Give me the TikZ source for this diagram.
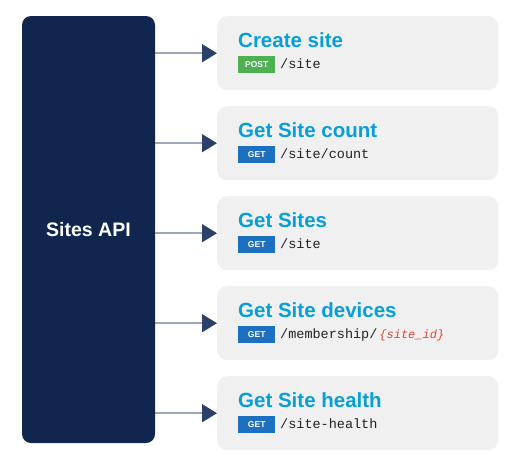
\documentclass[tikz,border=0pt]{standalone}
\usepackage{fontspec}
\setmainfont{Liberation Sans}
\setmonofont{Liberation Mono}
\usetikzlibrary{arrows.meta}
\definecolor{navy}{HTML}{10264F}
\definecolor{titleblue}{HTML}{079FD9}
\definecolor{boxgray}{HTML}{F0F0F0}
\definecolor{linegray}{HTML}{9CA7BB}
\definecolor{tipnavy}{HTML}{2C4169}
\definecolor{postgreen}{HTML}{4DB151}
\definecolor{getblue}{HTML}{1D6FC0}
\definecolor{paramred}{HTML}{E0433B}
\definecolor{codeblack}{HTML}{222222}
\tikzset{
  x=1pt,y=-1pt,
  apibox/.style={fill=navy,rounded corners=9pt,minimum width=133pt,minimum height=427pt,inner sep=0pt,text=white,font=\bfseries\fontsize{19.5}{22}\selectfont},
  opbox/.style={fill=boxgray,rounded corners=10pt,minimum width=281pt,minimum height=74pt,inner sep=0pt},
  optitle/.style={anchor=base west,inner sep=0pt,text=titleblue,font=\bfseries\fontsize{20.5}{23}\selectfont},
  badge/.style={anchor=west,inner sep=0pt,minimum width=37pt,minimum height=17pt,text=white,font=\bfseries\fontsize{8.5}{9}\selectfont},
  codetxt/.style={anchor=base west,inner sep=0pt,text=codeblack,font=\ttfamily\fontsize{13.5}{15}\selectfont},
  conn/.style={draw=linegray,line width=1.5pt,-{Triangle[length=15pt,width=18pt,color=tipnavy]}}
}
\begin{document}
\begin{tikzpicture}
\useasboundingbox (0,0) rectangle (518,466);
\node[apibox] (api) at (88.5,229.5) {Sites API};
\foreach \i/\t/\m/\c/\p in {1/Create site/POST/postgreen/{/site},
  2/Get Site count/GET/getblue/{/site/count},
  3/Get Sites/GET/getblue/{/site},
  4/Get Site devices/GET/getblue/{/membership/\kern2pt\textcolor{paramred}{\itshape\fontsize{12}{13}\selectfont\{site\_id\}}},
  5/Get Site health/GET/getblue/{/site-health}}{
  \pgfmathsetmacro{\yy}{16+90*(\i-1)}
  \node[opbox,anchor=north west] (b\i) at (217,\yy) {};
  \node[optitle] (t\i) at (238,\yy+31) {\t};
  \node[badge,fill=\c] (g\i) at (238,\yy+48.5) {\m};
  \node[codetxt] (c\i) at (280,\yy+52.5) {\p};
  \draw[conn] (api.east |- b\i.west) -- (b\i.west);
}
\end{tikzpicture}
\end{document}
